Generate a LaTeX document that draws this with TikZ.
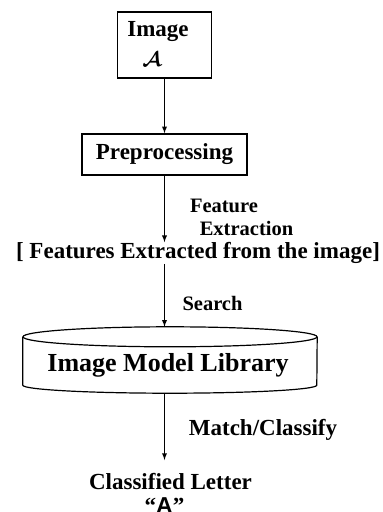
\documentclass[tikz,border=0pt]{standalone}
\usepackage{fontspec}
\setmainfont{Liberation Serif}
\newfontfamily\arialfont{Liberation Sans}
\usetikzlibrary{positioning}
\usetikzlibrary{arrows}

\tikzset{
  box/.style={draw,line width=1.4pt,inner sep=0pt},
  cyl/.style={line width=1.2pt},
  lbl/.style={inner sep=0pt,font=\bfseries\fontsize{20.5}{24}\selectfont},
  txt/.style={inner sep=0pt,font=\bfseries\fontsize{23}{27}\selectfont},
  flow/.style={-latex,line width=1.3pt}
}

\begin{document}
\begin{tikzpicture}[x=1pt,y=-1pt]
\useasboundingbox (0,0) rectangle (383,512);
\node[box,minimum width=94pt,minimum height=66pt](img) at (164.5,45){};
\node[txt](imgtext) at (158,32){Image};
\node[inner sep=0pt,font=\fontsize{20}{24}\selectfont\boldmath](imgletter) at (152,59){$\mathcal{A}$};
\node[box,txt,minimum width=165pt,minimum height=41pt](prep) at (164.5,154.5){Preprocessing};
\node[lbl](feat1) at (224,206){Feature};
\node[lbl](feat2) at (246.5,228){Extraction};
\node[txt](feat) at (198,253){[ Features Extracted from the image]};
\node[lbl](search) at (212.5,303){Search};
\node[inner sep=0pt,minimum width=294pt,minimum height=66pt](lib) at (170,360){};
\node[inner sep=0pt,font=\bfseries\fontsize{26}{30}\selectfont](libtext) at (168,365){Image Model Library};
\node[txt](match) at (263,430){Match/Classify};
\node[txt](cls) at (170.5,482){Classified Letter};
\node[txt](letter) at (164.5,506){``{\arialfont A}''};
\coordinate(endlib) at (164.5,460);

% library drum
\draw[cyl] ([yshift=-10pt]lib.north) ellipse (147pt and 10pt);
\draw[cyl] ([yshift=-10pt]lib.north west) -- ([yshift=8pt]lib.south west)
  arc[start angle=180,end angle=360,x radius=147pt,y radius=8pt]
  -- ([yshift=-10pt]lib.north east);

\path
(img.south) edge[flow] (prep.north)
(prep.south) edge[flow] (prep.south |- feat.north)
(prep.south |- feat.south) edge[flow] (prep.south |- lib.north)
(prep.south |- lib.south) edge[flow] (endlib);
\end{tikzpicture}
\end{document}
